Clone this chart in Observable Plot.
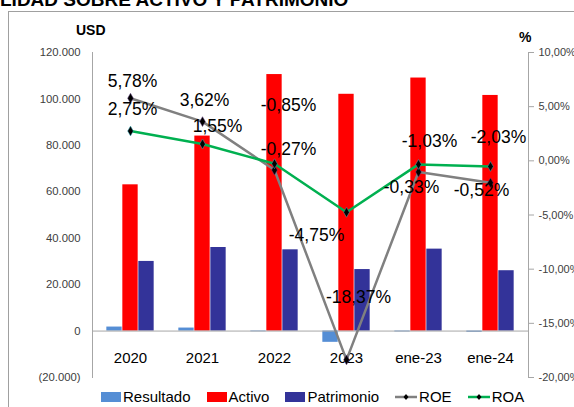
<!DOCTYPE html>
<html><head><meta charset="utf-8">
<script src="https://cdn.jsdelivr.net/npm/d3@7"></script>
<script src="https://cdn.jsdelivr.net/npm/@observablehq/plot@0.6"></script>
<style>
body{margin:0;background:#fff;}
#wrap{position:relative;width:574px;height:407px;overflow:hidden;font-family:"Liberation Sans",Arial,sans-serif;}
#title{position:absolute;left:0;top:-10px;font-weight:bold;font-size:19px;line-height:19px;white-space:nowrap;color:#000;}
#frame{position:absolute;left:8px;top:11px;width:620px;height:440px;border:1px solid #a0a0a0;}
#chart{position:absolute;left:0;top:0;}
#usd{position:absolute;left:76px;top:22px;font-weight:bold;font-size:14px;}
#pct{position:absolute;left:519px;top:29px;font-weight:bold;font-size:14px;}
#legend{position:absolute;top:388px;left:101px;display:flex;gap:16px;font-size:15px;line-height:17px;color:#000;}
#legend .it{display:flex;align-items:center;gap:2px;}
#legend .sw{width:20px;height:10px;display:inline-block;}
</style>
</head><body>
<div id="wrap">
  <div id="frame"></div>
  <div id="title">LIDAD SOBRE ACTIVO Y PATRIMONIO</div>
  <div id="chart"></div>
  <div id="usd">USD</div>
  <div id="pct">%</div>
  <div id="legend"></div>
</div>
<script>
// ---- data ----
const categories = ["2020", "2021", "2022", "2023", "ene-23", "ene-24"];
const resultado = [1730, 1300, -300, -4850, -360, -530];
const activo = [63000, 84000, 110500, 102000, 109000, 101500];
const patrimonio = [30000, 36000, 35000, 26500, 35300, 26000];
const roe = [5.78, 3.62, -0.85, -18.37, -1.03, -2.03];
const roa = [2.75, 1.55, -0.27, -4.75, -0.33, -0.52];
const usdTicks = [-20000, 0, 20000, 40000, 60000, 80000, 100000, 120000];
const pctTicks = [-20, -15, -10, -5, 0, 5, 10];
const seriesNames = ["Resultado", "Activo", "Patrimonio", "ROE", "ROA"];

// ---- styles (label offsets, colors) ----
const colors = {Resultado: "#558ED5", Activo: "#FF0000", Patrimonio: "#333399", ROE: "#808080", ROA: "#00B050"};
const roeDx = [2, 2, 14, 12, 11, 8];
const roeDy = [-17, -21, -65, -62, -31, -45];
const roaDx = [2, 15, 14, -30, -7, -9];
const roaDy = [-22, -18, -14, 23, 23, 24];

// ---- helpers ----
const usdDomain = [-20000, 120000];
const pctDomain = [-20, 10];
const toL = p => usdDomain[0] + (p - pctDomain[0]) / (pctDomain[1] - pctDomain[0]) * (usdDomain[1] - usdDomain[0]);
const fromL = v => pctDomain[0] + (v - usdDomain[0]) / (usdDomain[1] - usdDomain[0]) * (pctDomain[1] - pctDomain[0]);
const thou = d3.formatLocale({decimal: ",", thousands: ".", grouping: [3], currency: ["", ""]}).format(",.0f");
const fmtUSD = v => v < 0 ? "(" + thou(-v) + ")" : thou(v);
const fmtPct = p => d3.format(".2f")(p).replace(".", ",").replace("\u2212", "-") + "%";

const rows = categories.map((c, i) => ({c, i}));
const W = 574, H = 392;
const left = 92, right = 528;
const band = (right - left) / categories.length;
const bw = 16;
const inset = (band - bw) / 2;
const font = "Liberation Sans, Arial, sans-serif";

const labelMarks = [];
categories.forEach((c, i) => {
  labelMarks.push(Plot.text([i], {x: d => categories[d], y: d => toL(roe[d]), text: d => fmtPct(roe[d]), dx: roeDx[i], dy: roeDy[i], fontSize: 17.5, fill: "#000"}));
  labelMarks.push(Plot.text([i], {x: d => categories[d], y: d => toL(roa[d]), text: d => fmtPct(roa[d]), dx: roaDx[i], dy: roaDy[i], fontSize: 17.5, fill: "#000"}));
});

const chart = Plot.plot({
  width: W, height: H,
  marginLeft: left, marginRight: W - right, marginTop: 52, marginBottom: H - 377,
  x: {domain: categories, padding: 0, axis: null, label: null},
  y: {domain: usdDomain, axis: null, label: null},
  style: {fontFamily: font, background: "transparent", overflow: "visible"},
  marks: [
    Plot.barY(rows, {x: "c", y: d => resultado[d.i], fill: colors.Resultado, insetLeft: inset, insetRight: inset, dx: -bw}),
    Plot.barY(rows, {x: "c", y: d => activo[d.i], fill: colors.Activo, insetLeft: inset, insetRight: inset}),
    Plot.barY(rows, {x: "c", y: d => patrimonio[d.i], fill: colors.Patrimonio, insetLeft: inset, insetRight: inset, dx: bw}),
    Plot.ruleY([0], {stroke: "#A6A6A6", strokeWidth: 1}),
    Plot.frame({anchor: "left", stroke: "#A6A6A6"}),
    Plot.frame({anchor: "right", stroke: "#A6A6A6"}),
    Plot.axisY(usdTicks, {anchor: "left", label: null, tickSize: 0, tickPadding: 12, tickFormat: fmtUSD, fontSize: 11.3, fill: "#404040"}),
    Plot.axisY(pctTicks.map(toL), {anchor: "right", label: null, tickSize: 5, tickPadding: 5, tickFormat: v => fmtPct(Math.round(fromL(v))), fontSize: 11, fill: "#404040", stroke: "#A6A6A6"}),
    Plot.axisX({anchor: "bottom", label: null, tickSize: 0, tickPadding: 0, dy: -25, fontSize: 15, fill: "#000"}),
    Plot.line(rows, {x: "c", y: d => toL(roe[d.i]), stroke: colors.ROE, strokeWidth: 2.5}),
    Plot.dot(rows, {x: "c", y: d => toL(roe[d.i]), symbol: "diamond", r: 3, fill: "#000", stroke: "#5a3a7a", strokeWidth: 0.5}),
    Plot.line(rows, {x: "c", y: d => toL(roa[d.i]), stroke: colors.ROA, strokeWidth: 2.5}),
    Plot.dot(rows, {x: "c", y: d => toL(roa[d.i]), symbol: "diamond", r: 3, fill: "#000", stroke: "#3ab0c0", strokeWidth: 0.5}),
    ...labelMarks
  ]
});
document.getElementById("chart").appendChild(chart);

// legend
const leg = document.getElementById("legend");
seriesNames.forEach(name => {
  const it = document.createElement("div");
  it.className = "it";
  if (name === "ROE" || name === "ROA") {
    it.innerHTML = `<svg width="22" height="10"><line x1="0" y1="5" x2="22" y2="5" stroke="${colors[name]}" stroke-width="2.5"/><path d="M11,2 L13.5,5 L11,8 L8.5,5 Z" fill="#000"/></svg><span>${name}</span>`;
  } else {
    it.innerHTML = `<span class="sw" style="background:${colors[name]}"></span><span>${name}</span>`;
  }
  leg.appendChild(it);
});
</script>
</body></html>
